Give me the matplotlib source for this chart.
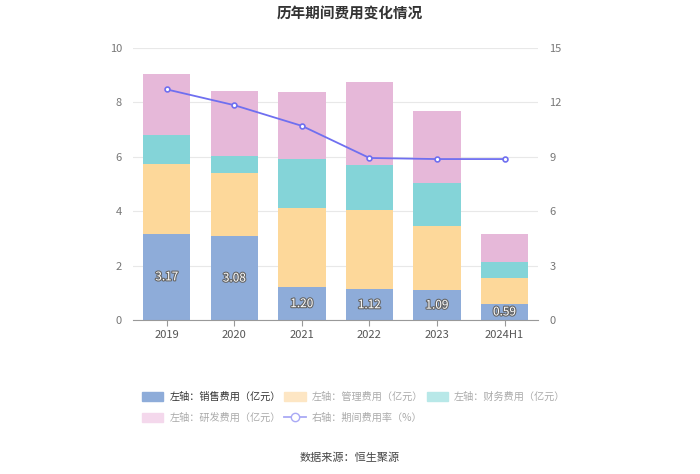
import numpy as np
import matplotlib.pyplot as plt
import matplotlib.patheffects as pe
from matplotlib.patches import Patch
from matplotlib.lines import Line2D

plt.rcParams['font.family'] = ['Noto Sans CJK SC', 'DejaVu Sans']

years = ['2019', '2020', '2021', '2022', '2023', '2024H1']
sales = [3.17, 3.08, 1.20, 1.12, 1.09, 0.59]
admin = [2.57, 2.31, 2.90, 2.91, 2.38, 0.94]
finance = [1.04, 0.64, 1.80, 1.66, 1.57, 0.59]
rnd = [2.25, 2.38, 2.49, 3.04, 2.64, 1.05]
rate = [12.71, 11.84, 10.70, 8.93, 8.87, 8.87]

labels = ['左轴：销售费用（亿元）', '左轴：管理费用（亿元）', '左轴：财务费用（亿元）',
          '左轴：研发费用（亿元）', '右轴：期间费用率（%）']

c_sales, c_admin, c_fin, c_rnd = '#8eacd9', '#fdd89a', '#84d4d8', '#e6b8d9'
c_line = '#6f6ff0'

fig = plt.figure(figsize=(7, 4.74), dpi=100)
ax = fig.add_axes([0.19, 0.325, 0.579, 0.574])
ax2 = ax.twinx()

x = np.arange(len(years))
w = 0.7
b1 = np.array(sales)
b2 = b1 + np.array(admin)
b3 = b2 + np.array(finance)
ax.bar(x, sales, w, color=c_sales, zorder=2)
ax.bar(x, admin, w, bottom=b1, color=c_admin, zorder=2)
ax.bar(x, finance, w, bottom=b2, color=c_fin, zorder=2)
ax.bar(x, rnd, w, bottom=b3, color=c_rnd, zorder=2)

for xi, v in zip(x, sales):
    ax.text(xi, v / 2, f'{v:.2f}', ha='center', va='center', fontsize=8.5, color='white',
            path_effects=[pe.withStroke(linewidth=1.6, foreground='#666666')], zorder=5)

ax2.plot(x, rate, color=c_line, lw=1.3, marker='o', ms=3.5, mfc='white', mec=c_line, mew=1.2, zorder=4)

ax.set_ylim(0, 10)
ax.set_yticks(range(0, 11, 2))
ax2.set_ylim(0, 15)
ax2.set_yticks(range(0, 16, 3))
ax.set_xlim(-0.5, len(years) - 0.5)
ax.set_xticks(x)
ax.set_xticklabels(years)
ax.grid(axis='y', color='#e8e8e8', lw=0.8, zorder=0)
ax.set_axisbelow(True)
for a in (ax, ax2):
    for s in ('top', 'left', 'right'):
        a.spines[s].set_visible(False)
    a.spines['bottom'].set_color('#999999')
    a.tick_params(axis='y', length=0, labelsize=8, colors='#777777', pad=8)
ax.tick_params(axis='x', length=4, color='#999999', labelsize=8, colors='#555555')
ax2.spines['bottom'].set_visible(False)

fig.text(0.5, 0.972, '历年期间费用变化情况', ha='center', va='center', fontsize=10.5,
         fontweight='bold', color='#333333')

handles = [Patch(color=c_sales), Patch(color='#fde6c4'), Patch(color='#b8e8e8'),
           Patch(color='#f4d8ec'),
           Line2D([0], [0], color='#a9a9f5', marker='o', ms=6, mfc='white', mec='#a9a9f5', lw=1.3)]
order = [0, 3, 1, 4, 2]
leg = fig.legend([handles[i] for i in order], [labels[i] for i in order], ncol=3,
                 loc='upper left', bbox_to_anchor=(0.19, 0.192),
                 frameon=False, fontsize=7.3, handlelength=2.1, handleheight=1.0,
                 columnspacing=0.35, handletextpad=0.6, labelspacing=1.0)
for i, t in zip(order, leg.get_texts()):
    t.set_color('#333333' if i == 0 else '#aaaaaa')

fig.text(0.5, 0.035, '数据来源：恒生聚源', ha='center', va='center', fontsize=8, color='#444444')

fig.savefig('out.png', dpi=100)
